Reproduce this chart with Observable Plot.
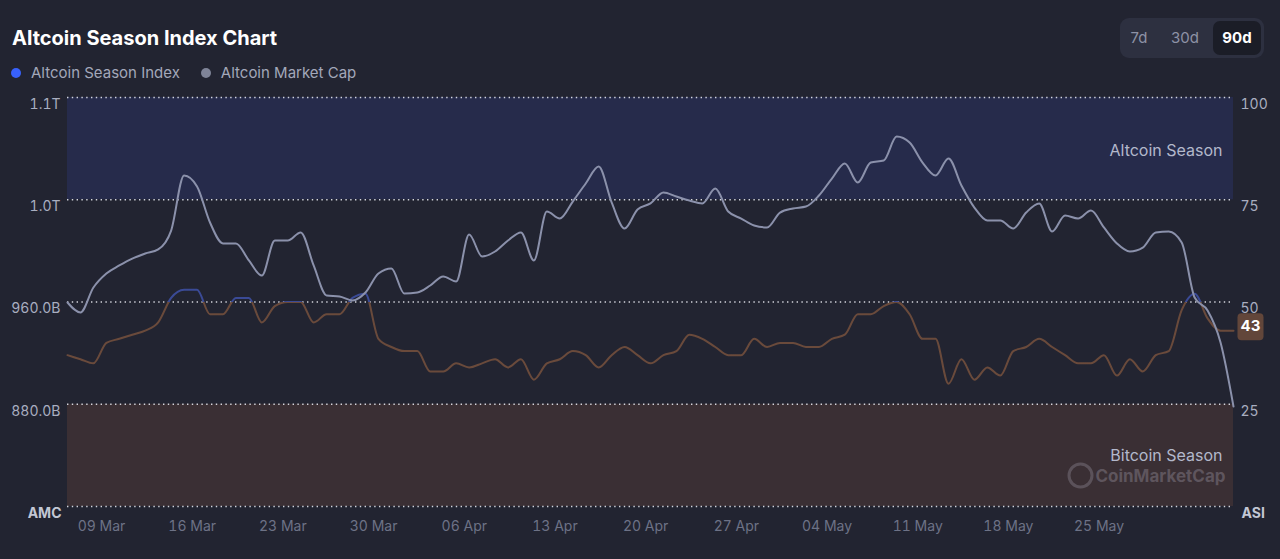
<!DOCTYPE html>
<html>
<head>
<meta charset="utf-8">
<script src="https://cdn.jsdelivr.net/npm/d3@7"></script>
<script src="https://cdn.jsdelivr.net/npm/@observablehq/plot@0.6"></script>
<style>
  html, body { margin: 0; padding: 0; background: #222431; }
  #root { position: relative; width: 1280px; height: 559px; background: #222431; overflow: hidden; font-family: Inter, "Noto Sans", sans-serif; }
  .title { position: absolute; left: 12px; top: 27px; font-size: 20px; font-weight: 700; color: #ffffff; line-height: 22px; letter-spacing: 0px; }
  .legend { position: absolute; left: 10px; top: 64px; display: flex; align-items: center; font-size: 15px; color: #a3a8ba; line-height: 18px; }
  .legend .item { display: flex; align-items: center; margin-right: 20px; }
  .legend .dot { width: 10px; height: 10px; border-radius: 50%; margin: 0 10px 0 1px; }
  .tabs { position: absolute; left: 1120px; top: 18px; width: 144px; height: 40px; border-radius: 9px; background: #2d3040; }
  .tab { position: absolute; top: 3px; height: 34px; line-height: 34px; font-size: 15px; color: #8d92a6; text-align: center; border-radius: 7px; }
  .tab.sel { background: #1b1d27; color: #ffffff; font-weight: 700; }
  #chart { position: absolute; left: 0; top: 85px; }
</style>
</head>
<body>
<div id="root">
  <div class="title">Altcoin Season Index Chart</div>
  <div class="legend" id="legend"></div>
  <div class="tabs" id="tabs"></div>
  <div id="chart"></div>
</div>
<script>
// ---------- data ----------
const seriesNames = ["Altcoin Season Index", "Altcoin Market Cap"];
const seriesColors = ["#3861fb", "#7f8498"];
const rangeTabs = ["7d", "30d", "90d"];
const selectedTab = "90d";

// first daily sample (UTC), one sample per day
const startDate = "2025-03-06T09:00:00Z";

// Altcoin market cap, billions USD (daily)
const marketCap = [
  959.6, 951.8, 971.3, 982.3, 988.6, 994.0, 997.9, 1001.1, 1015.9, 1059.0,
  1050.4, 1022.2, 1005.8, 1005.8, 992.5, 980.7, 1008.1, 1008.1, 1014.4, 988.6,
  965.1, 964.3, 961.2, 967.4, 982.3, 986.2, 966.6, 967.4, 972.9, 980.0,
  976.0, 1012.8, 995.6, 999.5, 1008.1, 1014.4, 992.5, 1030.8, 1025.3, 1038.6,
  1052.7, 1066.0, 1037.9, 1017.5, 1032.4, 1037.1, 1045.7, 1042.5, 1039.4, 1037.1,
  1048.8, 1030.8, 1025.3, 1019.9, 1018.3, 1030.0, 1033.2, 1034.7, 1043.3, 1056.6,
  1068.4, 1053.5, 1069.1, 1070.7, 1089.5, 1084.8, 1069.1, 1059.0, 1072.3, 1051.2,
  1033.9, 1023.8, 1023.8, 1017.5, 1030.0, 1037.1, 1015.2, 1027.7, 1025.3, 1031.6,
  1018.3, 1005.8, 999.5, 1002.6, 1014.4, 1015.2, 1006.6, 963.5, 953.3, 928.3,
  878.2
];

// Altcoin Season Index (daily)
const seasonIndex = [
  37, 36, 35, 40, 41, 42, 43, 45, 51, 53,
  53, 47, 47, 51, 51, 45, 49, 50, 50, 45,
  47, 47, 51, 52, 41, 39, 38, 38, 33, 33,
  35, 34, 35, 36, 34, 36, 31, 35, 36, 38,
  37, 34, 37, 39, 37, 35, 37, 38, 42, 41,
  39, 37, 37, 41, 39, 40, 40, 39, 39, 41,
  42, 47, 47, 49, 50, 47, 41, 41, 30, 36,
  31, 34, 32, 38, 39, 41, 39, 37, 35, 35,
  37, 32, 36, 33, 37, 38, 48, 52, 46, 43,
  43
];

// x tick labels
const tickDates = ["2025-03-09", "2025-03-16", "2025-03-23", "2025-03-30", "2025-04-06", "2025-04-13",
                   "2025-04-20", "2025-04-27", "2025-05-04", "2025-05-11", "2025-05-18", "2025-05-25"];

// index scale (right) ticks and the market-cap values (left) aligned with them
const indexTicks = [25, 50, 75, 100];
const capAxisMin = 800;   // market cap (B) at index 0
const capAxisMax = 1120;  // market cap (B) at index 100

// season bands
const bandNames = ["Altcoin Season", "Bitcoin Season"];
const bandLo = [75, 0];
const bandHi = [100, 25];
const bandFill = ["#262b4b", "#3a2f34"];
const bandLabelShift = [2, 0];

// ---------- build ----------
const t0 = new Date(startDate).getTime();
const rows = marketCap.map((v, i) => ({
  date: new Date(t0 + i * 864e5),
  cap: v,
  asi: seasonIndex[i]
}));
const capToIndex = v => (v - capAxisMin) / (capAxisMax - capAxisMin) * 100;
const capLabel = t => {
  const v = capAxisMin + t / 100 * (capAxisMax - capAxisMin);
  return v >= 1000 ? (v / 1000).toFixed(1) + "T" : v.toFixed(1) + "B";
};
const bands = bandNames.map((n, i) => ({ name: n, lo: bandLo[i], hi: bandHi[i], fill: bandFill[i] }));
const last = rows[rows.length - 1];

// legend + tabs
const legend = document.getElementById("legend");
seriesNames.forEach((n, i) => {
  const it = document.createElement("div");
  it.className = "item";
  it.innerHTML = `<span class="dot" style="background:${seriesColors[i]}"></span><span>${n}</span>`;
  legend.appendChild(it);
});
const tabs = document.getElementById("tabs");
const tabPos = [[0, 38], [38, 54], [93, 48]];
rangeTabs.forEach((t, i) => {
  const d = document.createElement("div");
  d.className = "tab" + (t === selectedTab ? " sel" : "");
  d.style.left = tabPos[i][0] + "px";
  d.style.width = tabPos[i][1] + "px";
  d.textContent = t;
  tabs.appendChild(d);
});

const badgeSymbol = {
  draw(ctx) {
    const w = 13, h = 13.5, r = 4;
    ctx.moveTo(-w + r, -h);
    ctx.lineTo(w - r, -h);
    ctx.arcTo(w, -h, w, -h + r, r);
    ctx.lineTo(w, h - r);
    ctx.arcTo(w, h, w - r, h, r);
    ctx.lineTo(-w + r, h);
    ctx.arcTo(-w, h, -w, h - r, r);
    ctx.lineTo(-w, -h + r);
    ctx.arcTo(-w, -h, -w + r, -h, r);
    ctx.closePath();
  }
};

const chart = Plot.plot({
  width: 1280,
  height: 474,
  marginTop: 12,
  marginBottom: 53,
  marginLeft: 67,
  marginRight: 47,
  style: { background: "transparent", color: "#a6abbd", fontFamily: "Inter, 'Noto Sans', sans-serif", fontSize: "14px", overflow: "visible" },
  x: { type: "utc", domain: [rows[0].date, last.date], axis: null },
  y: { domain: [0, 100], axis: null },
  color: { type: "identity" },
  marks: [
    Plot.rect(bands, { y1: "lo", y2: "hi", fill: "fill" }),
    Plot.ruleY([0, ...indexTicks], { stroke: "#e6e8f0", strokeWidth: 1.4, strokeDasharray: "1.4,3.4", strokeOpacity: 0.9 }),
    Plot.line(rows, { x: "date", y: "asi", stroke: "url(#asiGrad)", strokeWidth: 2, curve: "monotone-x" }),
    Plot.line(rows, { x: "date", y: d => capToIndex(d.cap), stroke: "#8b91ab", strokeWidth: 2, curve: "monotone-x" }),
    Plot.text(bands.slice(0, 1), { y: d => (d.lo + d.hi) / 2, text: "name", frameAnchor: "right", lineAnchor: "middle", dx: -11, dy: bandLabelShift[0], textAnchor: "end", fill: "#b3b8cb", fontSize: 16 }),
    Plot.text(bands.slice(1), { y: d => (d.lo + d.hi) / 2, text: "name", frameAnchor: "right", lineAnchor: "middle", dx: -11, dy: bandLabelShift[1], textAnchor: "end", fill: "#b3b8cb", fontSize: 16 }),
    Plot.dot(["CoinMarketCap"], { frameAnchor: "bottom-right", dx: -153, dy: -31, r: 11.5, stroke: "#77707a", strokeWidth: 3, fill: "none", strokeOpacity: 0.55 }),
    Plot.text(["CoinMarketCap"], { frameAnchor: "bottom-right", lineAnchor: "middle", dx: -8, dy: -30, textAnchor: "end", fill: "#77707a", fillOpacity: 0.6, fontSize: 17, fontWeight: 700 }),
    Plot.axisX(tickDates.map(d => new Date(d + "T00:00:00Z")), { tickFormat: d3.utcFormat("%d %b"), tickSize: 0, tickPadding: 15, fill: "#6d7286", fontSize: 14, label: null }),
    Plot.axisY(indexTicks, { anchor: "left", tickFormat: capLabel, tickSize: 0, tickPadding: 7, dy: 7, label: null, fontSize: 14, fill: "#a9aec0" }),
    Plot.axisY(indexTicks, { anchor: "right", tickSize: 0, tickPadding: 7, dy: 7, label: null, fontSize: 14, fill: "#a9aec0" }),
    Plot.text(["AMC"], { frameAnchor: "bottom-left", lineAnchor: "middle", dx: -6, dy: 7, textAnchor: "end", fontWeight: 700, fill: "#c3c7d4", fontSize: 14 }),
    Plot.text(["ASI"], { frameAnchor: "bottom-right", lineAnchor: "middle", dx: 8, dy: 7, textAnchor: "start", fontWeight: 700, fill: "#c3c7d4", fontSize: 14 }),
    Plot.dot([last], { x: "date", y: "asi", symbol: badgeSymbol, fill: "#62463a", stroke: "none", dx: 17, dy: -4 }),
    Plot.text([last], { x: "date", y: "asi", text: d => String(d.asi), dx: 17, dy: -4, fill: "#ffffff", fontWeight: 700, fontSize: 15 })
  ]
});

// gradient for the index line: blue above 50, brown below
const ys = chart.scale("y");
const svg = d3.select(chart);
const defs = svg.insert("defs", ":first-child");
const g = defs.append("linearGradient")
  .attr("id", "asiGrad").attr("gradientUnits", "userSpaceOnUse")
  .attr("x1", 0).attr("x2", 0)
  .attr("y1", ys.apply(100)).attr("y2", ys.apply(0));
[[0, "#3a4a96"], [0.5, "#3a4a96"], [0.5, "#6a4a3b"], [1, "#6a4a3b"]].forEach(([o, c]) =>
  g.append("stop").attr("offset", o).attr("stop-color", c));

document.getElementById("chart").appendChild(chart);
</script>
</body>
</html>
